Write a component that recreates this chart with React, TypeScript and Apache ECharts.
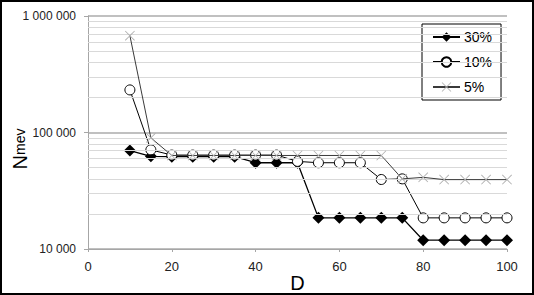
import React, { useEffect, useRef } from "react";
import * as echarts from "echarts";

const xValues = [10, 15, 20, 25, 30, 35, 40, 45, 50, 55, 60, 65, 70, 75, 80, 85, 90, 95, 100];
const series30 = [70000, 62500, 62000, 62000, 62000, 62000, 55000, 55000, 55000, 18500, 18500, 18500, 18500, 18500, 11900, 11900, 11900, 11900, 11900];
const series10 = [232000, 71000, 64000, 64000, 64000, 64000, 64000, 64000, 56500, 55000, 55000, 55000, 39500, 40000, 18500, 18500, 18500, 18500, 18500];
const series5 = [678000, 90000, 63500, 63500, 63500, 63500, 63500, 63500, 63500, 63500, 63500, 63500, 63500, 40000, 41200, 39400, 39400, 39400, 39400];
const seriesNames = ["30%", "10%", "5%"];
const minorGridValues = [20000, 30000, 40000, 50000, 60000, 70000, 80000, 90000, 200000, 300000, 400000, 500000, 600000, 700000, 800000, 900000];
const yMin = 10000;
const yMax = 1000000;
const xMin = 0;
const xMax = 100;
const xInterval = 20;
const xName = "D";
const yNameMain = "N";
const yNameSub = "mev";

const FONT = "'Liberation Sans', Arial, sans-serif";

function fmt(v: number): string {
  const r = Math.round(v);
  return String(r).replace(/\B(?=(\d{3})+(?!\d))/g, " ");
}

const crossPath = "path://M0,0.6L0.6,0L5,4.4L9.4,0L10,0.6L5.6,5L10,9.4L9.4,10L5,5.6L0.6,10L0,9.4L4.4,5Z";

export default function App() {
  const ref = useRef<HTMLDivElement>(null);
  useEffect(() => {
    document.body.style.margin = "0";
    if (!ref.current) return;
    const chart = echarts.init(ref.current, null, { renderer: "svg" });
    const pair = (arr: number[]) => xValues.map((x, i) => [x, arr[i]]);
    chart.setOption({
      animation: false,
      backgroundColor: "#fff",
      textStyle: { fontFamily: FONT },
      grid: { left: 88, right: 27, top: 16, bottom: 46, containLabel: false, outerBoundsMode: "none" },
      legend: {
        orient: "vertical",
        left: 422,
        top: 24,
        data: seriesNames,
        borderColor: "#000",
        borderWidth: 1,
        borderRadius: 0,
        padding: [6, 9, 6, 10],
        itemWidth: 27,
        itemHeight: 12,
        itemGap: 11,
        textStyle: { fontFamily: FONT, fontSize: 14, color: "#000", padding: [0, 0, 0, -1] },
      },
      xAxis: {
        type: "value",
        min: xMin,
        max: xMax,
        interval: xInterval,
        axisLine: { lineStyle: { color: "#a6a6a6", width: 1 } },
        axisTick: { show: true, length: 3, lineStyle: { color: "#a6a6a6" } },
        axisLabel: { fontFamily: FONT, fontSize: 13, color: "#222", margin: 11 },
        splitLine: { show: false },
      },
      yAxis: {
        type: "log",
        logBase: 10,
        min: yMin,
        max: yMax,
        axisLine: { show: true, lineStyle: { color: "#a6a6a6", width: 1 } },
        axisTick: { show: true, length: 4, lineStyle: { color: "#a6a6a6" } },
        axisLabel: { fontFamily: FONT, fontSize: 12, color: "#222", margin: 12, formatter: (v: number) => fmt(v) },
        splitLine: { show: true, lineStyle: { color: "#c0c0c0", width: 2 } },
      },
      graphic: [
        {
          type: "text",
          x: 297.5,
          y: 283,
          style: { text: xName, font: `20px ${FONT}`, fill: "#000", align: "center", verticalAlign: "middle" },
        },
        {
          type: "group",
          x: 29.5,
          y: 150,
          rotation: Math.PI / 2,
          children: [
            {
              type: "text",
              x: -5,
              y: 0,
              style: { text: yNameMain, font: `20px ${FONT}`, fill: "#000", align: "right", verticalAlign: "bottom" },
            },
            {
              type: "text",
              x: -5,
              y: -3,
              style: { text: yNameSub, font: `14px ${FONT}`, fill: "#000", align: "left", verticalAlign: "bottom" },
            },
          ],
        },
        {
          type: "rect",
          shape: { x: 1, y: 1, width: 532, height: 293 },
          style: { fill: "none", stroke: "#000", lineWidth: 2 },
          silent: true,
        },
      ],
      series: [
        {
          name: "grid",
          type: "line",
          data: [],
          z: 1,
          silent: true,
          markLine: {
            silent: true,
            symbol: ["none", "none"],
            label: { show: false },
            lineStyle: { color: "#d9d9d9", type: "solid", width: 1 },
            data: minorGridValues.map((v) => ({ yAxis: v })),
          },
        },
        {
          name: seriesNames[0],
          type: "line",
          data: pair(series30),
          z: 3,
          symbol: "diamond",
          symbolSize: 12,
          lineStyle: { color: "#000", width: 1.3 },
          itemStyle: { color: "#000" },
        },
        {
          name: seriesNames[1],
          type: "line",
          data: pair(series10),
          z: 4,
          symbol: "circle",
          symbolSize: 10,
          showAllSymbol: true,
          lineStyle: { color: "#000", width: 1 },
          itemStyle: { color: "#fff", borderColor: "#000", borderWidth: 1 },
        },
        {
          name: seriesNames[2],
          type: "line",
          data: pair(series5),
          z: 5,
          symbol: crossPath,
          symbolSize: 10,
          lineStyle: { color: "#3a3a3a", width: 1 },
          itemStyle: { color: "#b0b0b0" },
        },
      ],
    });
    return () => chart.dispose();
  }, []);
  return <div ref={ref} style={{ width: 534, height: 295 }} />;
}
